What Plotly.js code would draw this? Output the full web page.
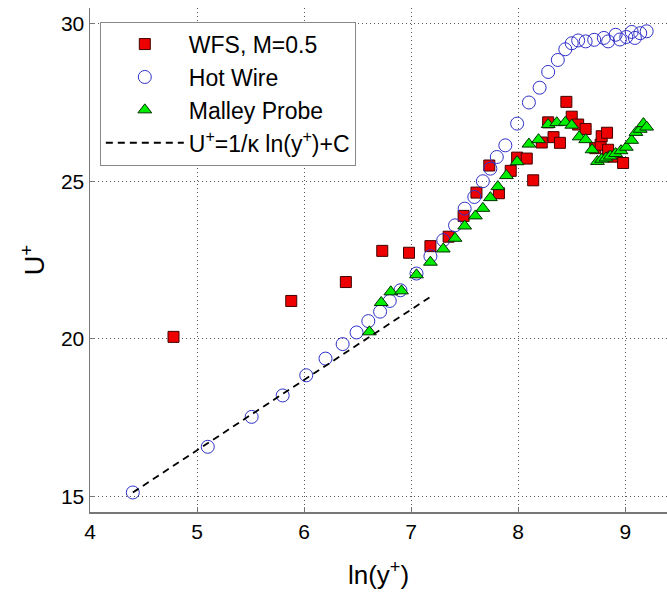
<!DOCTYPE html>
<html>
<head>
<meta charset="utf-8">
<script src="https://cdn.plot.ly/plotly-3.0.1.min.js"></script>
<style>html,body{margin:0;padding:0;background:#fff}</style>
</head>
<body>
<div id="chart" style="width:667px;height:592px"></div>
<script>
// WFS, M=0.5
const wfsX = [4.78, 5.88, 6.39, 6.73, 6.98, 7.18, 7.35, 7.49, 7.61, 7.73, 7.82, 7.93, 7.99, 8.08, 8.14, 8.22, 8.28, 8.33, 8.39, 8.45, 8.50, 8.56, 8.63, 8.72, 8.77, 8.78, 8.83, 8.84, 8.89, 8.98];
const wfsY = [20.06, 21.2, 21.8, 22.79, 22.73, 22.94, 23.24, 23.9, 24.64, 25.5, 24.62, 25.33, 25.75, 25.72, 25.03, 26.23, 26.87, 26.4, 26.22, 27.52, 27.05, 26.8, 26.66, 26.05, 26.16, 26.43, 26.54, 26.0, 25.78, 25.58];
// Hot Wire
const hwX = [4.40, 5.10, 5.51, 5.80, 6.02, 6.20, 6.36, 6.49, 6.60, 6.71, 6.80, 6.90, 7.05, 7.18, 7.30, 7.41, 7.50, 7.59, 7.67, 7.74, 7.80, 7.88, 7.99, 8.10, 8.20, 8.28, 8.37, 8.44, 8.50, 8.56, 8.63, 8.71, 8.80, 8.84, 8.91, 8.95, 9.01, 9.06, 9.09, 9.14, 9.20];
const hwY = [15.12, 16.57, 17.52, 18.2, 18.84, 19.37, 19.83, 20.2, 20.56, 20.86, 21.2, 21.54, 22.07, 22.62, 23.13, 23.6, 24.13, 24.5, 25.0, 25.4, 25.77, 26.14, 26.83, 27.5, 27.97, 28.47, 28.85, 29.19, 29.38, 29.47, 29.44, 29.49, 29.55, 29.44, 29.65, 29.5, 29.58, 29.74, 29.55, 29.7, 29.76];
// Malley Probe
const mpX = [6.61, 6.72, 6.81, 6.91, 7.05, 7.18, 7.30, 7.41, 7.50, 7.60, 7.67, 7.74, 7.81, 7.89, 7.99, 8.10, 8.19, 8.28, 8.36, 8.44, 8.50, 8.57, 8.63, 8.69, 8.74, 8.78, 8.82, 8.86, 8.91, 8.96, 9.01, 9.06, 9.10, 9.14, 9.17, 9.20];
const mpY = [20.22, 21.15, 21.49, 21.52, 22.03, 22.43, 22.85, 23.19, 23.58, 23.9, 24.14, 24.48, 24.83, 25.18, 25.62, 26.18, 26.32, 26.8, 26.86, 26.87, 26.78, 26.41, 26.32, 26.0, 25.63, 25.7, 25.74, 25.8, 25.88, 25.97, 26.08, 26.3, 26.55, 26.65, 26.83, 26.72];
// Log law line
const lawX = [4.40, 7.18];
const lawY = [15.12, 21.33];

const xTicks = [4, 5, 6, 7, 8, 9];
const yTicks = [15, 20, 25, 30];

const traces = [
  {x: wfsX, y: wfsY, type: 'scatter', mode: 'markers', name: 'WFS, M=0.5',
   marker: {symbol: 'square', size: 11, color: '#ee0000', line: {color: '#400000', width: 1}}},
  {x: hwX, y: hwY, type: 'scatter', mode: 'markers', name: 'Hot Wire',
   marker: {symbol: 'circle-open', size: 13, color: '#3030c8', line: {color: '#3030c8', width: 1}}},
  {x: mpX, y: mpY, type: 'scatter', mode: 'markers', name: 'Malley Probe',
   marker: {symbol: 'triangle-up', size: 12, color: '#00ee00', line: {color: '#003000', width: 1}}},
  {x: lawX, y: lawY, type: 'scatter', mode: 'lines', name: 'U<sup>+</sup>=1/\u03ba ln(y<sup>+</sup>)+C',
   line: {color: '#000', width: 1.8, dash: '7px,5px'}}
];

const font = {family: 'Liberation Sans, Arial, sans-serif', color: '#000'};

const layout = {
  width: 667, height: 592,
  margin: {l: 90, r: 0, t: 8, b: 80},
  paper_bgcolor: '#fff', plot_bgcolor: '#fff',
  font: Object.assign({size: 21}, font),
  showlegend: true,
  legend: {x: 0.017, y: 0.973, xanchor: 'left', yanchor: 'top',
           bgcolor: '#fff', bordercolor: '#888', borderwidth: 1,
           font: Object.assign({size: 23}, font), itemwidth: 78, tracegroupgap: 0},
  xaxis: {range: [4, 9.39], tickvals: xTicks, ticktext: xTicks.map(String),
          ticks: 'inside', ticklen: 5, tickcolor: '#777',
          showline: true, linecolor: '#777', linewidth: 1.5, zeroline: false,
          showgrid: true, gridcolor: '#555', gridwidth: 1, griddash: '1px,3px',
          tickfont: Object.assign({size: 21}, font),
          title: {text: 'ln(y<sup>+</sup>)', font: Object.assign({size: 26}, font), standoff: 24}},
  yaxis: {range: [14.5, 30.5], tickvals: yTicks, ticktext: yTicks.map(String),
          ticks: 'inside', ticklen: 5, tickcolor: '#777',
          showline: true, linecolor: '#777', linewidth: 1.5, zeroline: false,
          showgrid: true, gridcolor: '#555', gridwidth: 1, griddash: '1px,3px',
          tickfont: Object.assign({size: 21}, font),
          title: {text: 'U<sup>+</sup>', font: Object.assign({size: 27}, font), standoff: 8}}
};

Plotly.newPlot('chart', traces, layout, {displayModeBar: false, staticPlot: true});
</script>
</body>
</html>
